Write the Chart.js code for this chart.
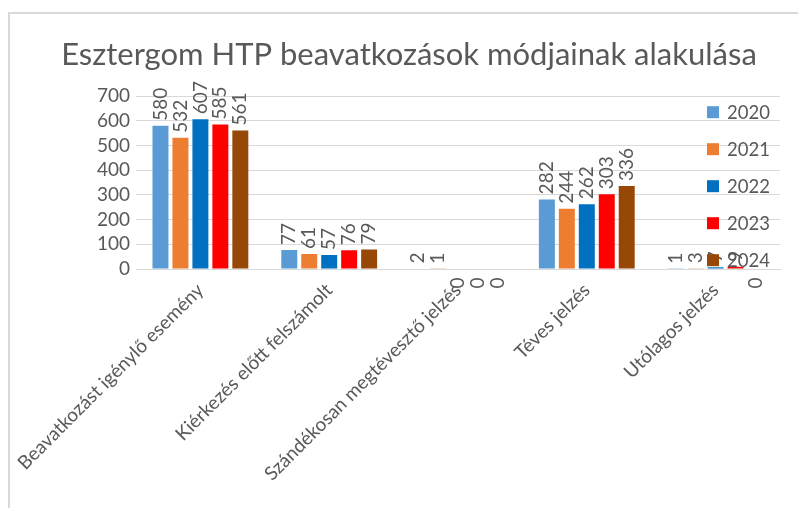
<!DOCTYPE html>
<html>
<head>
<meta charset="utf-8">
<script src="https://cdn.jsdelivr.net/npm/chart.js@4/dist/chart.umd.min.js"></script>
<style>
    body { margin: 0; background: #fff; }
    #frame { position: absolute; left: 8px; top: 12px; width: 900px; height: 600px; border-left: 2px solid #d9d9d9; border-top: 2px solid #d9d9d9; }
    #myChart { position: absolute; left: 0; top: 0; }
</style>
</head>
<body>
<div id="frame"></div>
<canvas id="myChart" width="798" height="508"></canvas>
<script>
const labels = [
    'Beavatkozást igénylő esemény',
    'Kiérkezés előtt felszámolt',
    'Szándékosan megtévesztő jelzés',
    'Téves jelzés',
    'Utólagos jelzés',
];

const years = ['2020', '2021', '2022', '2023', '2024'];
const y2020 = [580, 77, 2, 282, 1];
const y2021 = [532, 61, 1, 244, 3];
const y2022 = [607, 57, 0, 262, 7];
const y2023 = [585, 76, 0, 303, 9];
const y2024 = [561, 79, 0, 336, 0];
const colors = ['#5b9bd5', '#ed7d31', '#0070c0', '#ff0000', '#974706'];

const textColor = '#595959';
const fontName = 'Lato, Carlito, "Liberation Sans", sans-serif';

const series = [y2020, y2021, y2022, y2023, y2024];

const data = {
    labels: labels,
    datasets: series.map((s, i) => ({
        label: years[i],
        data: s,
        backgroundColor: colors[i],
        categoryPercentage: 0.775,
        barPercentage: 0.8,
    }))
};

// felirat a oszlopok fölé (90 fokkal elforgatva)
const valueLabels = {
    id: 'valueLabels',
    afterDatasetsDraw(chart) {
        const ctx = chart.ctx;
        ctx.save();
        ctx.fillStyle = textColor;
        ctx.font = '19px ' + fontName;
        chart.data.datasets.forEach((ds, i) => {
            chart.getDatasetMeta(i).data.forEach((bar, j) => {
                let v = ds.data[j];
                ctx.save();
                if (v == 0) {
                    ctx.translate(bar.x, bar.base + 14);
                    ctx.rotate(-Math.PI / 2);
                    ctx.textAlign = 'center';
                } else {
                    ctx.translate(bar.x, bar.y - 5);
                    ctx.rotate(-Math.PI / 2);
                    ctx.textAlign = 'left';
                }
                ctx.textBaseline = 'middle';
                ctx.fillText(String(v), 0, 0);
                ctx.restore();
            });
        });
        ctx.restore();
    }
};

// jelmagyarázat a rajzterületen belül, jobb oldalon
const sideLegend = {
    id: 'sideLegend',
    afterDraw(chart) {
        const ctx = chart.ctx;
        const area = chart.chartArea;
        ctx.save();
        ctx.font = '18.5px ' + fontName;
        ctx.textBaseline = 'middle';
        chart.data.datasets.forEach((ds, i) => {
            let y = area.top + 16 + i * 37;
            ctx.fillStyle = ds.backgroundColor;
            ctx.fillRect(area.right - 73, y - 6, 12, 12);
            ctx.fillStyle = textColor;
            ctx.fillText(ds.label, area.right - 53, y + 1);
        });
        ctx.restore();
    }
};

const config = {
    type: 'bar',
    data: data,
    options: {
        responsive: false,
        animation: false,
        layout: { padding: { top: 0, right: 18, left: 38, bottom: 0 } },
        plugins: {
            legend: { display: false },
            tooltip: { enabled: false },
            title: {
                display: true,
                text: 'Esztergom HTP beavatkozások módjainak alakulása',
                color: textColor,
                font: { family: fontName, size: 31, weight: 'normal' },
                padding: { top: 36, bottom: 23 }
            }
        },
        scales: {
            x: {
                grid: { display: false },
                border: { display: true, color: '#d9d9d9' },
                ticks: {
                    color: textColor,
                    font: { family: fontName, size: 19 },
                    minRotation: 45,
                    maxRotation: 45,
                    autoSkip: false,
                    padding: 2
                },
                afterFit: (scale) => { scale.height = 239; }
            },
            y: {
                min: 0,
                max: 700,
                grid: { color: '#d9d9d9', drawTicks: false },
                border: { display: false },
                ticks: {
                    stepSize: 100,
                    autoSkip: false,
                    color: textColor,
                    font: { family: fontName, size: 19 },
                    padding: 6
                },
                afterFit: (scale) => { scale.width = 98; }
            }
        }
    },
    plugins: [valueLabels, sideLegend]
};

const myChart = new Chart(
    document.getElementById('myChart'),
    config
);
</script>
</body>
</html>
